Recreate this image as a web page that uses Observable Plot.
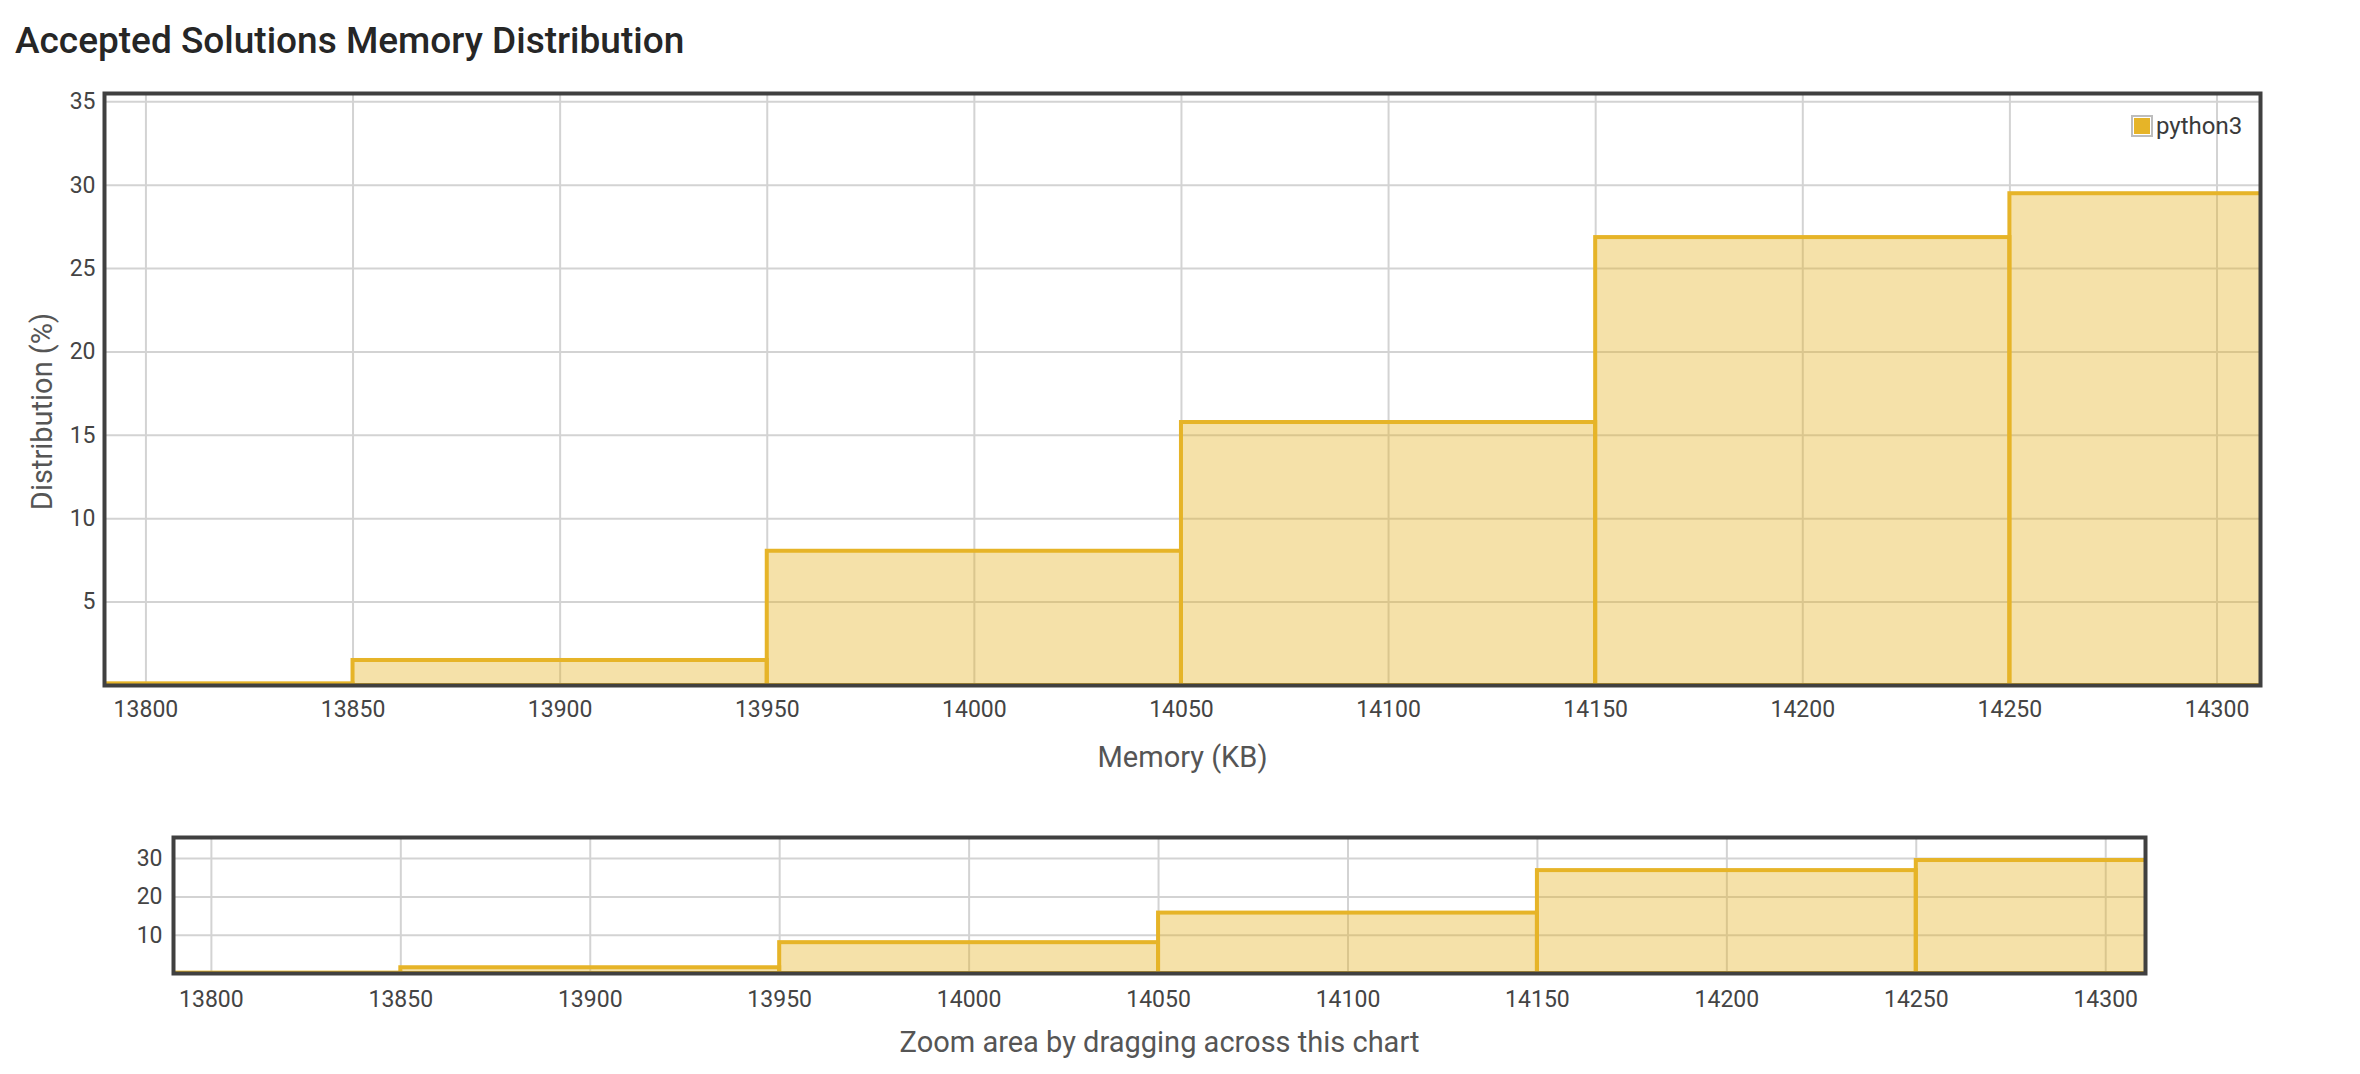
<!DOCTYPE html>
<html>
<head>
<meta charset="utf-8">
<script src="https://cdn.jsdelivr.net/npm/d3@7"></script>
<script src="https://cdn.jsdelivr.net/npm/@observablehq/plot@0.6"></script>
<style>
  html, body { margin: 0; padding: 0; background: #fff; }
  #page { position: relative; width: 2360px; height: 1074px; overflow: hidden; font-family: Roboto, "Liberation Sans", sans-serif; }
  #title { position: absolute; left: 15px; top: 21px; font-size: 37px; line-height: 40px; font-weight: 500; color: #262626; white-space: nowrap; }
  #main { position: absolute; left: 0; top: 60px; }
  #overview { position: absolute; left: 0; top: 800px; }
  #legend { position: absolute; left: 2131px; top: 112px; display: flex; align-items: center; font-size: 24px; color: #3a3a3a; }
  #legend .sw { width: 16px; height: 16px; border: 2px solid #bdbdbd; padding: 1px; box-sizing: content-box; margin-right: 3px; }
  #legend .sw div { width: 16px; height: 16px; }
</style>
</head>
<body>
<div id="page">
  <div id="title"></div>
  <div id="main"></div>
  <div id="overview"></div>
  <div id="legend"><div class="sw"><div id="swfill"></div></div><span id="legendText"></span></div>
</div>
<script>
// ---- data ----
const titleText = "Accepted Solutions Memory Distribution";
const seriesName = "python3";
const memoryBins = [13800, 13900, 14000, 14100, 14200, 14300];   // bin centers (KB)
const distribution = [0.1, 1.5, 8.05, 15.77, 26.86, 29.49];        // %
const binWidth = 100;                                              // KB
const xDomain = [13790, 14310.5];
const yDomain = [0, 35.5];
const xTicks = [13800, 13850, 13900, 13950, 14000, 14050, 14100, 14150, 14200, 14250, 14300];
const yTicksMain = [5, 10, 15, 20, 25, 30, 35];
const yTicksOverview = [10, 20, 30];
const xLabel = "Memory (KB)";
const yLabel = "Distribution (%)";
const overviewLabel = "Zoom area by dragging across this chart";

// ---- styles ----
const gold = "#e6b428";
const gridColor = "#d3d3d3";
const frameColor = "#404040";
const labelColor = "#555";
const tickFont = 23;
const labelFont = 29;

const rows = memoryBins.map((m, i) => ({ x1: m - binWidth / 2, x2: m + binWidth / 2, value: distribution[i] }));

document.getElementById("title").textContent = titleText;
document.getElementById("legendText").textContent = seriesName;
document.getElementById("swfill").style.background = gold;

function barsAndGrid(yTicks) {
  return [
    Plot.gridX(xTicks, { stroke: gridColor, strokeOpacity: 1, strokeWidth: 2 }),
    Plot.gridY(yTicks, { stroke: gridColor, strokeOpacity: 1, strokeWidth: 2 }),
    Plot.rectY(rows, { x1: "x1", x2: "x2", y: "value", fill: gold, fillOpacity: 0.4, stroke: gold, strokeWidth: 4, clip: true }),
    Plot.frame({ stroke: frameColor, strokeWidth: 4 })
  ];
}

const plotStyle = { fontFamily: "Roboto, 'Liberation Sans', sans-serif", fontSize: tickFont + "px", color: "#444", background: "transparent", overflow: "visible" };

const mainPlot = Plot.plot({
  width: 2360,
  height: 715,
  marginTop: 33,
  marginBottom: 90,
  marginLeft: 104,
  marginRight: 100,
  style: plotStyle,
  x: { domain: xDomain },
  y: { domain: yDomain },
  marks: [
    ...barsAndGrid(yTicksMain),
    Plot.axisX(xTicks, { tickSize: 0, tickPadding: 15, fontSize: tickFont, tickFormat: d => String(d), label: null }),
    Plot.axisY(yTicksMain, { tickSize: 0, tickPadding: 9, fontSize: tickFont, label: null }),
    Plot.text([xLabel], { frameAnchor: "bottom", lineAnchor: "bottom", dy: 81, fontSize: labelFont, fill: labelColor }),
    Plot.text([yLabel], { frameAnchor: "left", textAnchor: "middle", rotate: -90, lineAnchor: "top", dx: -73, dy: 22, fontSize: labelFont, fill: labelColor })
  ]
});
document.getElementById("main").appendChild(mainPlot);

const overviewPlot = Plot.plot({
  width: 2360,
  height: 263,
  marginTop: 37,
  marginBottom: 90,
  marginLeft: 173,
  marginRight: 215,
  style: plotStyle,
  x: { domain: xDomain },
  y: { domain: yDomain },
  marks: [
    ...barsAndGrid(yTicksOverview),
    Plot.axisX(xTicks, { tickSize: 0, tickPadding: 17, fontSize: tickFont, tickFormat: d => String(d), label: null }),
    Plot.axisY(yTicksOverview, { tickSize: 0, tickPadding: 11, fontSize: tickFont, label: null }),
    Plot.text([overviewLabel], { frameAnchor: "bottom", lineAnchor: "bottom", dy: 78, fontSize: labelFont, fill: labelColor })
  ]
});
document.getElementById("overview").appendChild(overviewPlot);
</script>
</body>
</html>
